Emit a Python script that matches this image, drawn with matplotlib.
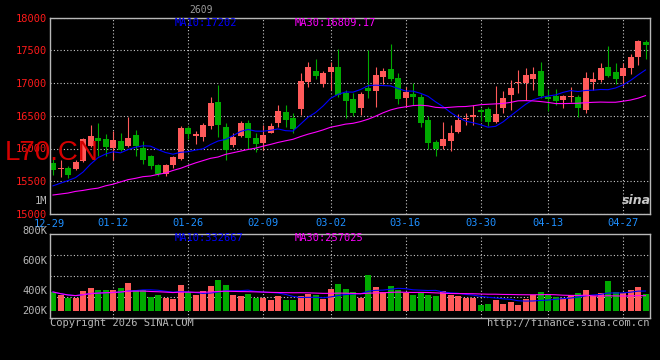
import matplotlib
matplotlib.use('Agg')
import matplotlib.pyplot as plt
import matplotlib.transforms as mtransforms
import numpy as np
import pandas as pd

plt.rcParams.update({
    'font.family': 'DejaVu Sans Mono',
    'font.size': 7.5,
})

RED = '#ff5a5a'
GREEN = '#00aa00'
GRID = '#c8c8c8'
GREY = '#b8b8b8'
DATE_BLUE = '#1e8fff'

HOLIDAYS = [
    '2026-01-01', '2026-01-02',
    '2026-02-16', '2026-02-17', '2026-02-18', '2026-02-19', '2026-02-20',
    '2026-02-23', '2026-04-06',
]
dates = pd.bdate_range('2025-12-29', '2026-04-30', freq='C',
                       holidays=HOLIDAYS).strftime('%m-%d').tolist()

opens = [15778, 15680, 15702, 15687, 15802, 16041, 16167, 16143, 16006, 16117,
         16041, 16208, 16015, 15878, 15752, 15610, 15752, 15843, 16310, 16193,
         16183, 16350, 16714, 16325, 16046, 16198, 16395, 16158, 16091, 16243,
         16386, 16562, 16471, 16603, 17018, 17185, 16983, 17170, 17246, 16851,
         16755, 16619, 16917, 16877, 17094, 17211, 17070, 16775, 16831, 16790,
         16436, 16097, 16041, 16117, 16259, 16447, 16487, 16588, 16603, 16410,
         16614, 16816, 16993, 17000, 17059, 17185, 16780, 16800, 16740, 16785,
         16780, 16588, 17018, 17044, 17246, 17170, 17105, 17231, 17398, 17625]
highs = [15854, 15828, 15737, 15828, 16160, 16360, 16395, 16217, 16274, 16243,
         16477, 16284, 16117, 15904, 15757, 15760, 15890, 16350, 16350, 16274,
         16390, 16781, 16968, 16386, 16230, 16420, 16436, 16243, 16360, 16390,
         16664, 16664, 16548, 17155, 17322, 17368, 17185, 17322, 17515, 16892,
         16842, 16861, 17500, 17246, 17231, 17591, 17155, 16942, 16993, 16826,
         16497, 16132, 16400, 16360, 16527, 16548, 16664, 16623, 16638, 16953,
         16880, 17044, 17196, 17230, 17240, 17313, 16915, 16903, 16810, 16942,
         16816, 17170, 17170, 17307, 17560, 17300, 17300, 17450, 17660, 17650]
lows = [15600, 15565, 15550, 15676, 15790, 16030, 15878, 15878, 15818, 15960,
        16020, 15878, 15767, 15692, 15575, 15575, 15706, 15818, 16147, 16071,
        16122, 16295, 16183, 15828, 16030, 16183, 16000, 15950, 15970, 16230,
        16335, 16335, 16243, 16512, 16942, 17058, 16942, 16892, 16790, 16462,
        16497, 16512, 16766, 16638, 16983, 17029, 16680, 16629, 16664, 16329,
        16000, 15878, 15995, 15955, 16230, 16365, 16365, 16426, 16340, 16395,
        16547, 16588, 16842, 16740, 16900, 16766, 16573, 16664, 16620, 16714,
        16477, 16547, 16900, 17018, 17085, 16980, 16953, 17140, 17270, 17360]
closes = [15665, 15690, 15600, 15793, 16143, 16193, 16121, 16030, 16132, 15970,
          16167, 16041, 15828, 15737, 15610, 15752, 15863, 16320, 16223, 16218,
          16360, 16699, 16360, 15980, 16183, 16395, 16167, 16071, 16208, 16350,
          16573, 16436, 16300, 17029, 17246, 17105, 17155, 17246, 16816, 16725,
          16547, 16831, 16881, 17120, 17181, 17059, 16755, 16866, 16790, 16395,
          16091, 15995, 16147, 16234, 16436, 16471, 16512, 16562, 16410, 16523,
          16766, 16918, 17018, 17120, 17135, 16800, 16760, 16725, 16800, 16800,
          16623, 17079, 17059, 17231, 17105, 17055, 17231, 17398, 17640, 17575]
volumes = [314000, 259000, 221000, 221000, 330000, 380000, 342000, 342000, 342000, 380000,
           462000, 342000, 342000, 231000, 259000, 215000, 193000, 424000, 314000, 259000,
           325000, 408000, 507000, 424000, 259000, 243000, 276000, 221000, 215000, 177000,
           243000, 177000, 177000, 243000, 276000, 259000, 193000, 358000, 441000, 358000,
           314000, 221000, 589000, 396000, 314000, 408000, 342000, 297000, 259000, 297000,
           259000, 243000, 325000, 259000, 243000, 221000, 221000, 94000, 111000, 177000,
           122000, 149000, 94000, 205000, 259000, 314000, 276000, 231000, 221000, 259000,
           297000, 342000, 243000, 297000, 490000, 314000, 297000, 342000, 396000, 276000]

# moving averages before enough history is on screen
ma10_head = [15430, 15470, 15510, 15555, 15640, 15760, 15860, 15915, 15950]
ma30_head = [15290, 15305, 15320, 15345, 15360, 15380, 15395, 15430, 15455, 15490,
             15524, 15545, 15570, 15580, 15605, 15626, 15665, 15697, 15740, 15780,
             15815, 15850, 15870, 15910, 15935, 15960, 15985, 16005, 16035]

date_ticks = ['01-12', '01-26', '02-09', '03-02', '03-16', '03-30', '04-13', '04-27']
first_date = '12-29'
price_ticks = [15000, 15500, 16000, 16500, 17000, 17500, 18000]
vol_labels = ['800K', '600K', '400K', '200K']

W, H = 660, 360
VOL_PER_PX = 16500


def px_axes(fig, left, top, right, bottom):
    return fig.add_axes([left / W, 1 - bottom / H, (right - left) / W, (bottom - top) / H])


def style_axes(ax):
    ax.set_facecolor('black')
    for sp in ax.spines.values():
        sp.set_color(GREY)
        sp.set_linewidth(1)
    ax.set_axisbelow(True)
    ax.grid(True, which='major', color=GRID, ls=(0, (1, 2)), lw=0.8)
    ax.tick_params(which='both', length=0)


fig = plt.figure(figsize=(W / 100, H / 100), dpi=100, facecolor='black')
ax = px_axes(fig, 50, 17.5, 650, 214)
axv = px_axes(fig, 50, 234, 650, 318)
style_axes(ax)
style_axes(axv)

o = np.array(opens, float)
c = np.array(closes, float)
x = np.arange(len(dates))
colors = np.where(c > o, RED, GREEN)

# candles
ax.vlines(x, lows, highs, colors=colors, lw=0.8, zorder=2)
ax.bar(x, np.maximum(np.abs(c - o), 15), 0.8, bottom=np.minimum(o, c),
       color=colors, lw=0, zorder=2)

ma10 = pd.Series(closes, dtype=float).rolling(10).mean().to_numpy()
ma30 = pd.Series(closes, dtype=float).rolling(30).mean().to_numpy()
ma10[:len(ma10_head)] = ma10_head
ma30[:len(ma30_head)] = ma30_head
ax.plot(x, ma10, color='#0000ff', lw=0.8, zorder=3)
ax.plot(x, ma30, color='#ff00ff', lw=0.8, zorder=3)

ax.set_xlim(-0.4, len(dates) - 0.4)
ax.set_ylim(15000, 18000)
ax.set_yticks(price_ticks)
ax.set_yticklabels([str(p) for p in price_ticks], color='#ff1a1a')
ax.tick_params(axis='y', pad=2)
ax.set_xticks([dates.index(d) for d in date_ticks])
ax.set_xticklabels(date_ticks, color=DATE_BLUE)
ax.tick_params(axis='x', pad=3)

# first date sits at the left border, without a grid line
xtrans = mtransforms.blended_transform_factory(ax.transData, ax.transAxes)
ax.text(dates.index(first_date) - 0.5, -0.023, first_date, transform=xtrans,
        ha='center', va='top', color=DATE_BLUE, clip_on=False)

trans = mtransforms.blended_transform_factory(ax.transAxes, ax.transData)
ax.text(-0.005, 15200, '1M', transform=trans, ha='right', va='center', color=GREY)
ax.text(0.208, 0.972, 'MA10:17202', transform=ax.transAxes, color='#0000ff', va='center')
ax.text(0.408, 0.972, 'MA30:16809.17', transform=ax.transAxes, color='#ff00ff', va='center')

# volume panel
axv.bar(x, volumes, 0.8, color=colors, lw=0, zorder=2)
vol = pd.Series(volumes, dtype=float)
axv.plot(x, vol.rolling(10, min_periods=1).mean(), color='#0000ff', lw=0.8, zorder=3)
axv.plot(x, vol.rolling(30, min_periods=1).mean(), color='#ff00ff', lw=0.8, zorder=3)
axv.set_xlim(ax.get_xlim())
vmin, vmax = -7 * VOL_PER_PX, 77 * VOL_PER_PX
axv.set_ylim(vmin, vmax)
axv.set_yticks(np.linspace(vmin, vmax, 5)[1:4])
axv.set_yticklabels([])
axv.set_xticks(ax.get_xticks())
axv.set_xticklabels([])

vtrans = mtransforms.blended_transform_factory(axv.transAxes, axv.transData)
for label, py in zip(vol_labels, [231, 261, 291, 311]):
    axv.text(-0.005, (311 - py) * VOL_PER_PX, label, transform=vtrans,
             ha='right', va='center', color=GREY, clip_on=False)
axv.text(0.208, 0.955, 'MA10:332667', transform=axv.transAxes, color='#0000ff', va='center')
axv.text(0.408, 0.955, 'MA30:257025', transform=axv.transAxes, color='#ff00ff', va='center')

fig.text(50 / W, 1 - 323 / H, 'Copyright 2026 SINA.COM', color=GREY, va='center')
fig.text(649 / W, 1 - 323 / H, 'http://finance.sina.com.cn', color=GREY, ha='right', va='center')
fig.text(201 / W, 1 - 10 / H, '2609', color='#9a9a9a', ha='center', va='center', fontsize=7)
fig.text(5 / W, 1 - 160 / H, 'L70.CN', family='Liberation Sans', fontsize=20,
         color='#d40000', va='baseline', zorder=5)
fig.text(636 / W, 1 - 200 / H, 'sina', family='DejaVu Sans', style='italic',
         weight='bold', fontsize=9, color='#c8c8c8', ha='center', va='center')

fig.savefig('out.png', dpi=100, facecolor='black')
